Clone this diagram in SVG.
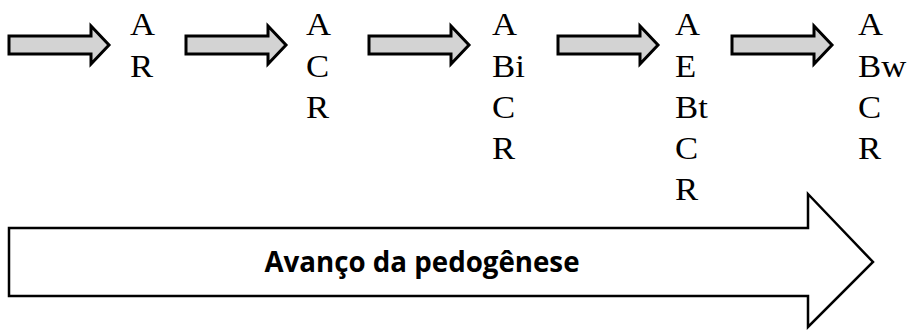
<svg xmlns="http://www.w3.org/2000/svg" width="914" height="330" viewBox="0 0 914 330">
<style>
.sa{fill:#d3d3d3;stroke:#000;stroke-width:3;stroke-linejoin:miter}
.big{fill:#fff;stroke:#000;stroke-width:2.5}
.h{font-family:"Liberation Serif",serif;font-size:31px;fill:#000}
.lbl{font-family:"Open Sans","Liberation Sans",sans-serif;font-weight:bold;font-size:28px;fill:#000}
</style>
<defs>
<path id="sarrow" d="M0,8 H82 V-2 L100,17 L82,36 V26 H0 Z"/>
</defs>
<g id="connectors">
<use href="#sarrow" class="sa" x="9" y="28"/>
<use href="#sarrow" class="sa" x="186" y="28"/>
<use href="#sarrow" class="sa" x="369" y="28"/>
<use href="#sarrow" class="sa" x="558" y="28"/>
<use href="#sarrow" class="sa" x="732" y="28"/>
</g>
<g id="stage1" transform="translate(130,0) scale(1.12,1)"><text class="h" y="35">A</text><text class="h" y="77">R</text></g>
<g id="stage2" transform="translate(306,0) scale(1.12,1)"><text class="h" y="35">A</text><text class="h" y="77">C</text><text class="h" y="118">R</text></g>
<g id="stage3" transform="translate(492,0) scale(1.12,1)"><text class="h" y="35">A</text><text class="h" y="77">Bi</text><text class="h" y="118">C</text><text class="h" y="159">R</text></g>
<g id="stage4" transform="translate(675,0) scale(1.12,1)"><text class="h" y="35">A</text><text class="h" y="77">E</text><text class="h" y="118">Bt</text><text class="h" y="159">C</text><text class="h" y="200">R</text></g>
<g id="stage5" transform="translate(858,0) scale(1.12,1)"><text class="h" y="35">A</text><text class="h" y="77">Bw</text><text class="h" y="118">C</text><text class="h" y="159">R</text></g>
<g id="progress">
<path class="big" d="M9,228 H808 V194 L873,262 L808,327 V296 H9 Z"/>
<text class="lbl" x="422" y="272" text-anchor="middle" textLength="315" lengthAdjust="spacingAndGlyphs">Avanço da pedogênese</text>
</g>
</svg>
